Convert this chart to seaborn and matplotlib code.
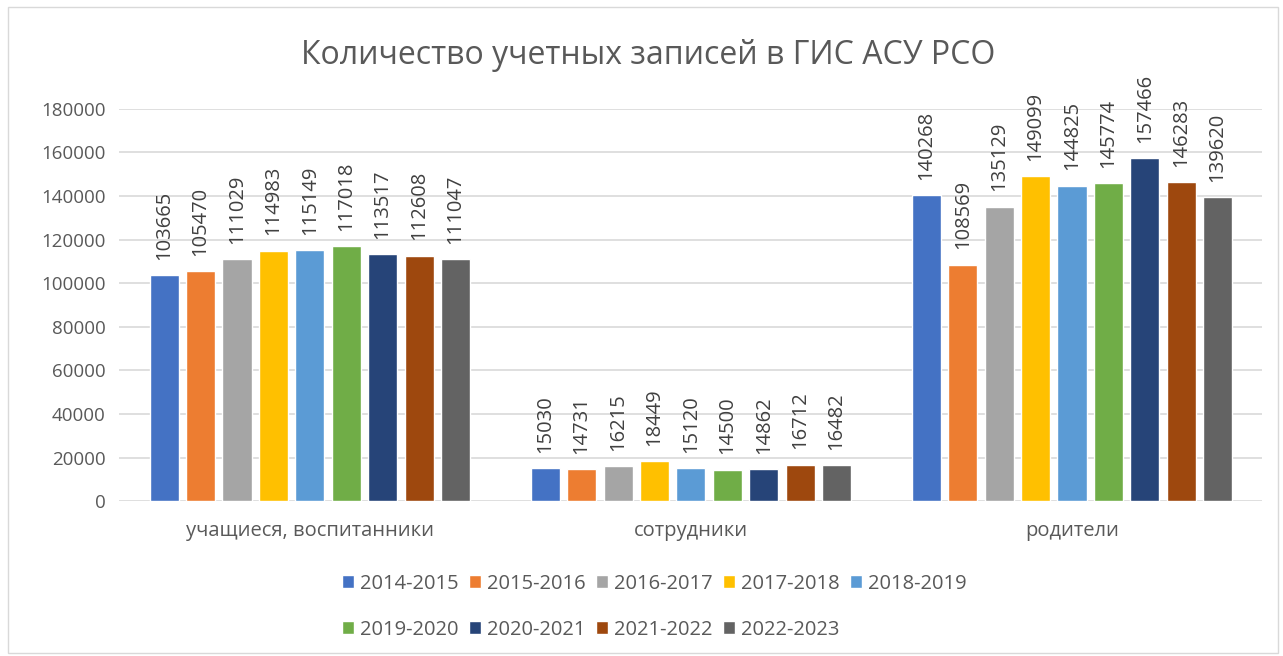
import matplotlib
matplotlib.use("Agg")
import matplotlib.pyplot as plt
import seaborn as sns
import pandas as pd
from matplotlib.patches import Rectangle

categories = ["учащиеся, воспитанники", "сотрудники", "родители"]
years = ["2014-2015", "2015-2016", "2016-2017", "2017-2018", "2018-2019",
         "2019-2020", "2020-2021", "2021-2022", "2022-2023"]
students = [103665, 105470, 111029, 114983, 115149, 117018, 113517, 112608, 111047]
staff = [15030, 14731, 16215, 18449, 15120, 14500, 14862, 16712, 16482]
parents = [140268, 108569, 135129, 149099, 144825, 145774, 157466, 146283, 139620]
colors = ["#4472C4", "#ED7D31", "#A5A5A5", "#FFC000", "#5B9BD5",
          "#70AD47", "#264478", "#9E480E", "#636363"]

rows = []
for cat, vals in zip(categories, [students, staff, parents]):
    for y, v in zip(years, vals):
        rows.append({"cat": cat, "year": y, "val": v})
df = pd.DataFrame(rows)

sns.set_style("white")
plt.rcParams["font.family"] = ["Open Sans", "DejaVu Sans"]
text_col = "#595959"

fig = plt.figure(figsize=(12.83, 6.56), dpi=100)
ax = fig.add_axes([0.093, 0.236, 0.891, 0.598])

sns.barplot(data=df, x="cat", y="val", hue="year", hue_order=years,
            palette=colors, saturation=1, width=0.86, gap=0.2, ax=ax,
            edgecolor="white", linewidth=1)

for cont in ax.containers:
    ax.bar_label(cont, rotation=90, padding=11, fontsize=14.5, color="#404040")

ax.set_ylim(0, 180000)
ax.set_yticks(range(0, 180001, 20000))
ax.yaxis.grid(True, color="#D9D9D9", linewidth=1.2)
ax.set_axisbelow(True)
for s in ax.spines.values():
    s.set_visible(False)
ax.tick_params(axis="y", length=0, labelsize=13.5, colors=text_col, pad=10)
ax.tick_params(axis="x", length=0, labelsize=14.5, colors=text_col, pad=14)
ax.set_xlabel("")
ax.set_ylabel("")

fig.text(0.505, 0.915, "Количество учетных записей в ГИС АСУ РСО",
         ha="center", va="center", fontsize=23, color=text_col)

handles, labels = ax.get_legend_handles_labels()
ax.get_legend().remove()
order = [0, 5, 1, 6, 2, 7, 3, 8, 4]
fig.legend([handles[i] for i in order], [labels[i] for i in order],
           loc="center", bbox_to_anchor=(0.51, 0.075), ncol=5, frameon=False,
           fontsize=14.5, labelcolor=text_col, handlelength=0.6, handleheight=0.6,
           handletextpad=0.3, columnspacing=0.5, labelspacing=1.3)

fig.patches.append(Rectangle((0.006, 0.004), 0.99, 0.985, transform=fig.transFigure,
                             fill=False, edgecolor="#D9D9D9", linewidth=1))

fig.savefig("out.png", dpi=100)
